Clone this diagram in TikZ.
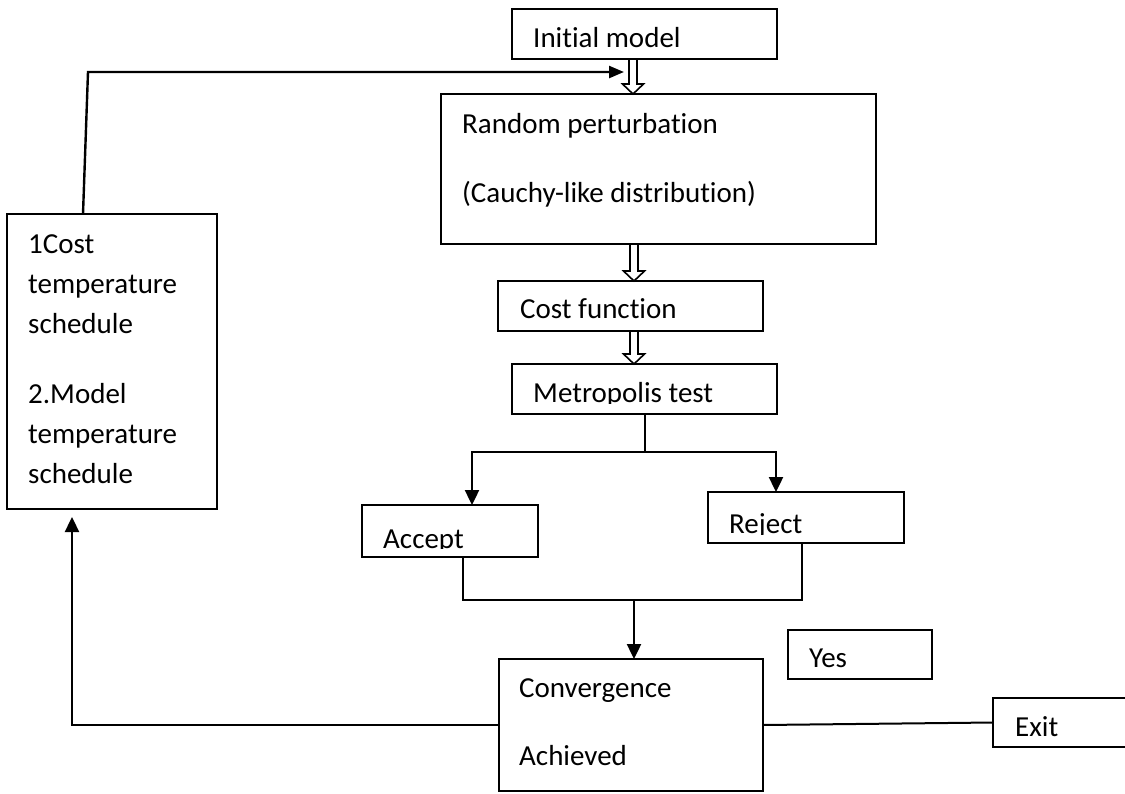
\documentclass[tikz,border=0pt]{standalone}
\usepackage{fontspec}
\setmainfont{Carlito}[RawFeature={-liga}]
\usetikzlibrary{arrows.meta,calc}
\tikzset{
 box/.style={draw, line width=2pt, rectangle, inner sep=0pt, outer sep=0pt, anchor=north west},
 txt/.style={inner sep=0pt, anchor=base west, font=\fontsize{29}{35}\selectfont},
 arr/.style={line width=2.4pt, -{Triangle[length=15pt,width=14pt]}},
 arrs/.style={line width=2.4pt, -{Triangle[length=15pt,width=12pt]}},
 ln/.style={line width=2pt},
 hollow/.style={draw, line width=1.6pt, fill=white, line join=miter}
}
\newcommand\hollowarrow[2]{%
 \path[hollow] ($(#1)+(-4,0)$) -- ($(#2)+(-4,-10)$) -- ($(#2)+(-10.5,-10)$) -- (#2) -- ($(#2)+(10.5,-10)$) -- ($(#2)+(4,-10)$) -- ($(#1)+(4,0)$) -- cycle;}
\begin{document}
\begin{tikzpicture}[x=1pt,y=-1pt]
\clip (0,0) rectangle (1125,793);
\fill[white] (0,0) rectangle (1125,793);
% boxes
\node[box, minimum width=265pt, minimum height=50pt] (init) at (512,9) {};
\node[box, minimum width=435pt, minimum height=150pt] (rp) at (441,94) {};
\node[box, minimum width=265pt, minimum height=50pt] (cost) at (498,281) {};
\node[box, minimum width=265pt, minimum height=50pt] (metro) at (512,364) {};
\node[box, minimum width=176pt, minimum height=52pt] (acc) at (362,505) {};
\node[box, minimum width=196pt, minimum height=51pt] (rej) at (708,492) {};
\node[box, minimum width=264pt, minimum height=132pt] (conv) at (499,659) {};
\node[box, minimum width=144pt, minimum height=49pt] (yes) at (788,630) {};
\node[box, minimum width=160pt, minimum height=49pt] (exit) at (993,698) {};
\node[box, minimum width=210pt, minimum height=295pt] (sched) at (7,214) {};
% texts
\node[txt] (tinit) at (533,47) {Initial model};
\node[txt] (trp1) at (462,133) {Random perturbation};
\node[txt] (trp2) at (462,202) {(Cauchy-like distribution)};
\node[txt] (tcost) at (520,318) {Cost function};
\begin{scope}
\clip (512,364) rectangle (777,403);
\node[txt] (tmetro) at (533,402) {Metropolis test};
\end{scope}
\begin{scope}
\clip (362,505) rectangle (538,548);
\node[txt] (tacc) at (383,548) {Accept};
\end{scope}
\begin{scope}
\clip (708,492) rectangle (904,534);
\node[txt] (trej) at (729,533) {Reject};
\end{scope}
\node[txt] (tconv1) at (519,697) {Convergence};
\node[txt] (tconv2) at (519,765) {Achieved};
\node[txt] (tyes) at (809,667) {Yes};
\node[txt] (texit) at (1015,736) {Exit};
\node[txt] (ts1) at (28,253) {1Cost};
\node[txt] (ts2) at (28,293) {temperature};
\node[txt] (ts3) at (28,333) {schedule};
\node[txt] (ts4) at (28,403) {2.Model};
\node[txt] (ts5) at (28,443) {temperature};
\node[txt] (ts6) at (28,483) {schedule};
% helper coordinates
\coordinate (x633) at (633,0);
\coordinate (x634) at (634,0);
\coordinate (xa) at (472,0);
\coordinate (xr) at (776,0);
\coordinate (xa2) at (463,0);
\coordinate (xr2) at (802,0);
\coordinate (x83) at (83,0);
\coordinate (bl) at (72,0);
\coordinate (split) at (644.5,452);
\coordinate (join) at (634,600);
\coordinate (fb1) at (88,72);
\coordinate (fbtip) at (624,72);
% hollow arrows
\hollowarrow{init.south -| x633}{rp.north -| x633}
\hollowarrow{rp.south -| x634}{cost.north -| x634}
\hollowarrow{cost.south -| x634}{metro.north -| x634}
% split to accept / reject
\draw[ln] (metro.south) -- (split);
\draw[arr] (split) -| (acc.north -| xa);
\draw[arr] (split) -| (rej.north -| xr);
% join
\draw[ln] (acc.south -| xa2) -- (xa2 |- join) -- (xr2 |- join) -- (rej.south -| xr2);
\draw[arr] (join) -- (join |- conv.north);
% feedback to top
\draw[arrs] (sched.north -| x83) -- (fb1) -- (fbtip);
% convergence back to schedule
\draw[arr] (conv.west) -- (conv.west -| bl) -- ($(sched.south -| bl)+(0,8)$);
% exit
\draw[ln] (conv.east) -- (exit.west);
\end{tikzpicture}
\end{document}
